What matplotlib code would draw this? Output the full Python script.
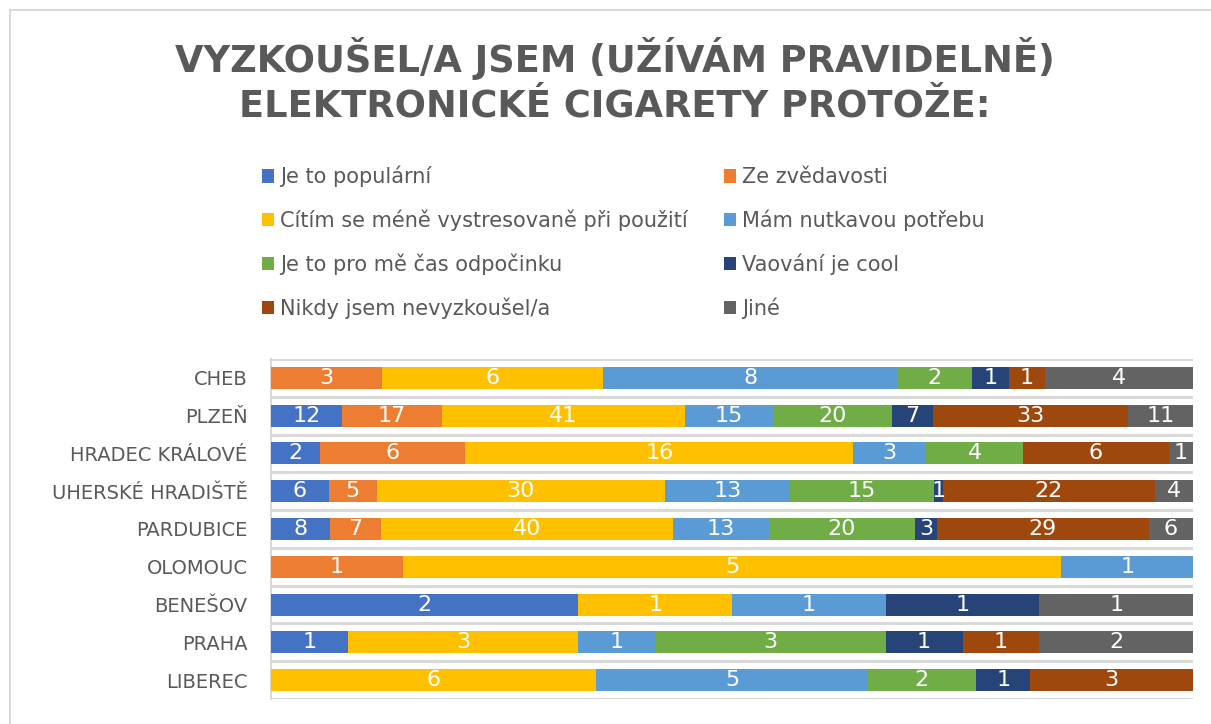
import matplotlib
matplotlib.use("Agg")
import matplotlib.pyplot as plt
from matplotlib.patches import Rectangle
import numpy as np

plt.rcParams['font.family'] = ['DejaVu Sans']

# data
mesta = ["CHEB", "PLZEŇ", "HRADEC KRÁLOVÉ", "UHERSKÉ HRADIŠTĚ", "PARDUBICE",
         "OLOMOUC", "BENEŠOV", "PRAHA", "LIBEREC"]
duvody = ["Je to populární", "Ze zvědavosti", "Cítím se méně vystresovaně při použití",
          "Mám nutkavou potřebu", "Je to pro mě čas odpočinku", "Vaování je cool",
          "Nikdy jsem nevyzkoušel/a", "Jiné"]
popularni = [0, 12, 2, 6, 8, 0, 2, 1, 0]
zvedavost = [3, 17, 6, 5, 7, 1, 0, 0, 0]
stres = [6, 41, 16, 30, 40, 5, 1, 3, 6]
nutkava = [8, 15, 3, 13, 13, 1, 1, 1, 5]
odpocinek = [2, 20, 4, 15, 20, 0, 0, 3, 2]
cool = [1, 7, 0, 1, 3, 0, 1, 1, 1]
nikdy = [1, 33, 6, 22, 29, 0, 0, 1, 3]
jine = [4, 11, 1, 4, 6, 0, 1, 2, 0]
barvy = ["#4472C4", "#ED7D31", "#FFC000", "#5B9BD5", "#70AD47", "#264478", "#9E480E", "#636363"]

serie = np.array([popularni, zvedavost, stres, nutkava, odpocinek, cool, nikdy, jine], dtype=float)
soucty = serie.sum(axis=0)
podil = serie / soucty  # 100% skladany graf

fig = plt.figure(figsize=(12.11, 7.24), dpi=100)
# ramecek grafu
fig.patches.append(Rectangle((10/1211, -0.1), 1.2, (1 - 10/724) + 0.1, transform=fig.transFigure,
                             fill=False, edgecolor="#D9D9D9", linewidth=1.5))

ax = fig.add_axes([271/1211, 1 - 699/724, 922/1211, 340/724])
y = np.arange(len(mesta))
levo = np.zeros(len(mesta))
for i in range(len(duvody)):
    ax.barh(y, podil[i], left=levo, height=0.58, color=barvy[i], label=duvody[i], zorder=3)
    for j in range(len(mesta)):
        if serie[i, j] > 0:
            ax.text(levo[j] + podil[i, j] / 2, y[j], "%d" % serie[i, j], ha="center", va="center",
                    color="white", fontsize=16, zorder=4)
    levo += podil[i]

ax.set_xlim(0, 1)
ax.set_ylim(len(mesta) - 0.5, -0.5)
for b in np.arange(-0.5, len(mesta), 1):
    ax.axhline(b, color="#D9D9D9", linewidth=2.2, zorder=1)
ax.set_xticks([])
ax.set_yticks(y)
ax.set_yticklabels(mesta, fontsize=14, color="#595959")
ax.tick_params(axis="y", length=0, pad=17)
for s in ["top", "right", "bottom"]:
    ax.spines[s].set_visible(False)
ax.spines["left"].set_color("#D9D9D9")
ax.spines["left"].set_linewidth(1.5)

fig.text(615/1211, 1 - 58/724, "VYZKOUŠEL/A JSEM (UŽÍVÁM PRAVIDELNĚ)", ha="center", va="center",
         fontsize=26.5, fontweight="bold", color="#595959")
fig.text(615/1211, 1 - 106/724, "ELEKTRONICKÉ CIGARETY PROTOŽE:", ha="center", va="center",
         fontsize=26.5, fontweight="bold", color="#595959")

h, l = ax.get_legend_handles_labels()
poradi = [0, 2, 4, 6, 1, 3, 5, 7]
fig.legend([h[k] for k in poradi], [l[k] for k in poradi], ncol=2, frameon=False,
           loc="upper left", bbox_to_anchor=(243/1211, 1 - 147/724), fontsize=15,
           labelcolor="#595959", handlelength=0.6, handleheight=0.6, handletextpad=0.3,
           labelspacing=1.07, columnspacing=1.7)

fig.savefig("out.png", dpi=100)
